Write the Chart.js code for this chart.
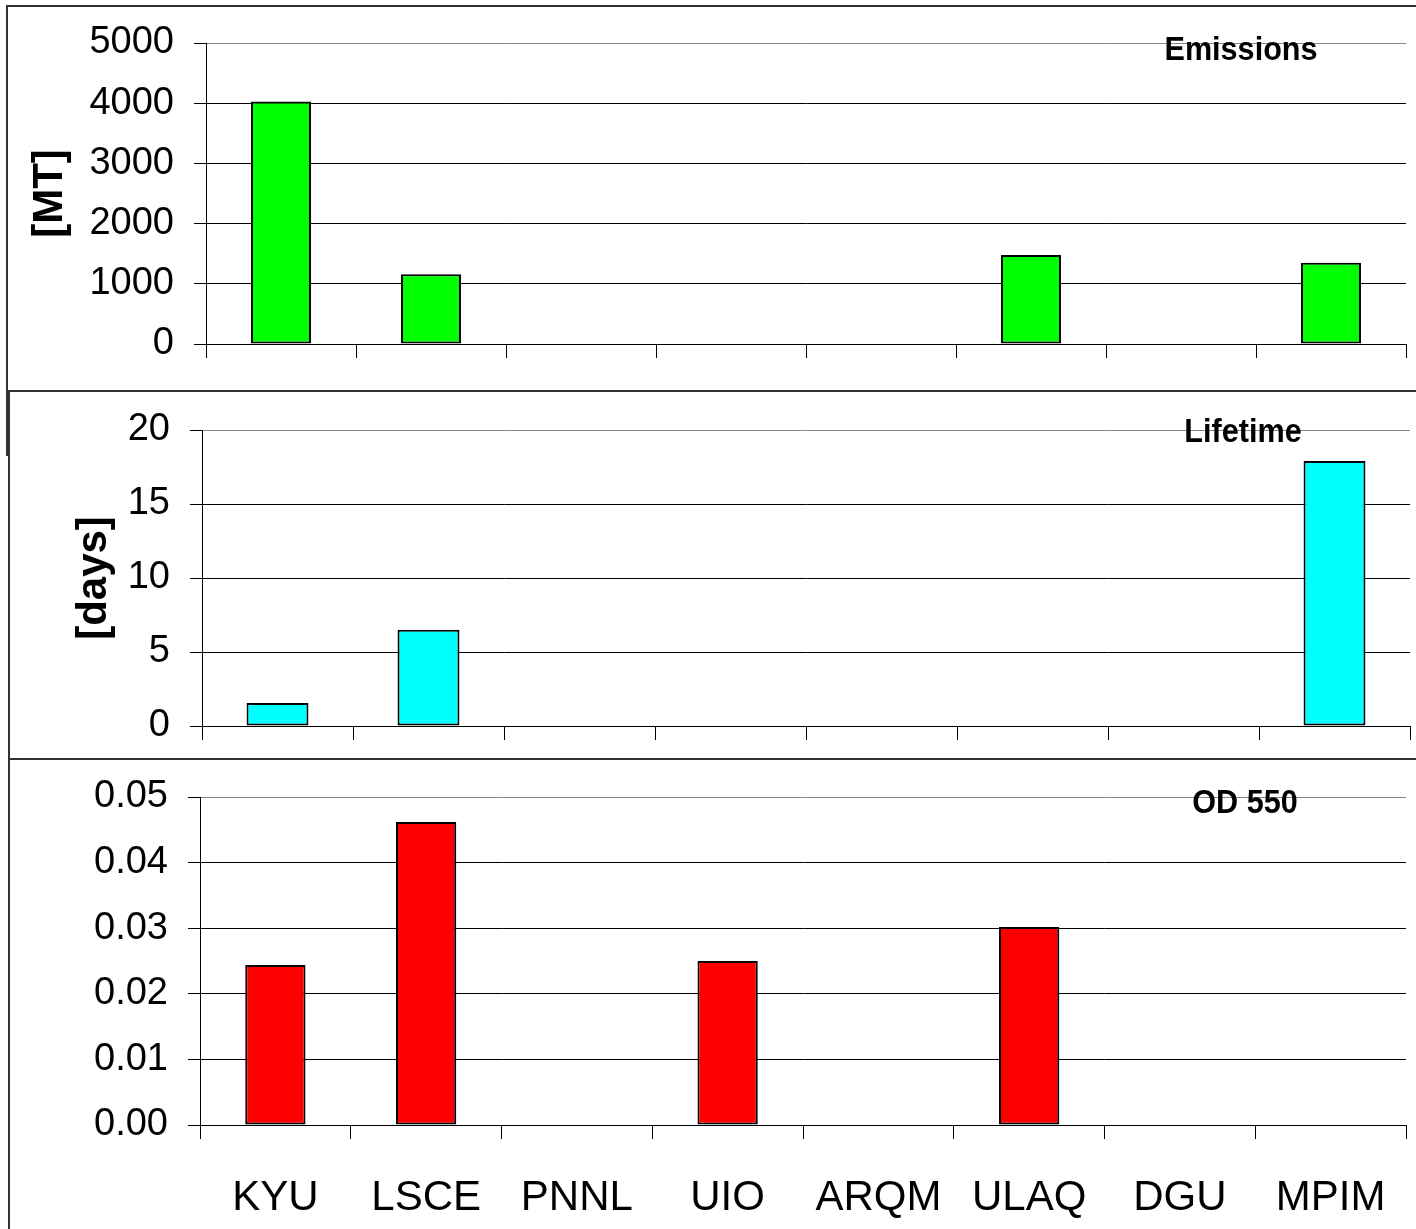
<!DOCTYPE html>
<html>
<head>
<meta charset="utf-8">
<script src="https://cdn.jsdelivr.net/npm/chart.js@4.4.0/dist/chart.umd.min.js"></script>
<style>
  body { margin: 0; background: #fff; width: 1416px; height: 1229px; overflow: hidden; position: relative; }
  .panel { position: absolute; background: #fff; border: 2px solid #333; box-sizing: border-box; }
  canvas { position: absolute; left: 0; }
</style>
</head>
<body>
<div class="panel" style="left:6px; top:5px; width:1430px; height:451px;"></div>
<canvas id="chartEmissions" width="1416" height="390" style="top:0"></canvas>
<div class="panel" style="left:8px; top:390px; width:1430px; height:370px;"></div>
<canvas id="chartLifetime" width="1416" height="380" style="top:390px"></canvas>
<div class="panel" style="left:8px; top:758px; width:1430px; height:500px;"></div>
<canvas id="chartOD" width="1416" height="470" style="top:759px"></canvas>

<script>
// Donnees
const categories = ["KYU", "LSCE", "PNNL", "UIO", "ARQM", "ULAQ", "DGU", "MPIM"];
const emissions = [4030, 1160, null, null, null, 1480, null, 1350];
const lifetime = [1.55, 6.5, null, null, null, null, null, 17.9];
const od550 = [0.0244, 0.0462, null, 0.025, null, 0.0302, null, null];

const FONT = "'Liberation Sans', Arial, sans-serif";

// titre dans le coin haut droit
const cornerTitle = {
  id: "cornerTitle",
  afterDraw(chart, args, opts) {
    const { ctx, chartArea } = chart;
    ctx.save();
    ctx.font = "bold 34px " + FONT;
    ctx.fillStyle = "#000";
    ctx.textAlign = "center";
    ctx.textBaseline = "alphabetic";
    ctx.translate(chartArea.right - opts.dx, chartArea.top + opts.dy);
    ctx.scale(0.9, 1);
    ctx.fillText(opts.text, 0, 0);
    ctx.restore();
  }
};

function makeChart(id, cfg) {
  const showX = !!cfg.showX;
  return new Chart(document.getElementById(id), {
    type: "bar",
    data: {
      labels: categories,
      datasets: [{
        data: cfg.data,
        backgroundColor: cfg.color,
        borderColor: "#000",
        borderWidth: 2,
        borderSkipped: false,
        categoryPercentage: 1,
        barPercentage: cfg.barPct || 0.4
      }]
    },
    options: {
      responsive: false,
      animation: false,
      layout: { padding: { left: 0, right: 1416 - cfg.right, top: cfg.top, bottom: 0 } },
      plugins: {
        legend: { display: false },
        tooltip: { enabled: false },
        cornerTitle: { text: cfg.title, dx: cfg.titleDx, dy: cfg.titleDy }
      },
      scales: {
        x: {
          afterFit: s => { s.height = cfg.xHeight; s.paddingLeft = 0; s.paddingRight = 0; },
          grid: {
            offset: true,
            drawOnChartArea: true,
            color: c => c.index === categories.length ? "#888" : "rgba(0,0,0,0)",
            tickColor: "#000",
            tickLength: 14
          },
          border: { color: "#000", width: 1 },
          ticks: {
            display: showX,
            color: "#000",
            padding: 34,
            maxRotation: 0,
            font: { family: FONT, size: 42 }
          }
        },
        y: {
          min: 0,
          max: cfg.max,
          afterFit: s => { s.width = cfg.left; s.paddingTop = 0; s.paddingBottom = 0; },
          grid: {
            color: c => c.tick && Math.abs(c.tick.value - cfg.max) < 1e-9 ? "#888" : "#000",
            tickColor: "#000",
            tickLength: 12
          },
          border: { color: "#000", width: 1 },
          ticks: {
            stepSize: cfg.step,
            color: "#000",
            padding: 20,
            font: { family: FONT, size: 38 },
            callback: cfg.fmt || (v => v)
          },
          title: {
            display: !!cfg.yTitle,
            text: cfg.yTitle || "",
            color: "#000",
            font: { family: FONT, size: 42, weight: "bold" },
            padding: { top: cfg.yTitlePad || 0, bottom: 0 }
          }
        }
      }
    },
    plugins: [cornerTitle]
  });
}

const chartEmissions = makeChart("chartEmissions", {
  data: emissions, color: "#00ff00", title: "Emissions",
  left: 206, right: 1406, top: 43, xHeight: 46,
  max: 5000, step: 1000, yTitle: "[MT]", yTitlePad: 25,
  titleDx: 165, titleDy: 17
});

const chartLifetime = makeChart("chartLifetime", {
  data: lifetime, color: "#00ffff", title: "Lifetime",
  left: 202, right: 1410, top: 40, xHeight: 44, barPct: 0.41,
  max: 20, step: 5, yTitle: "[days]", yTitlePad: 69,
  titleDx: 167, titleDy: 12
});

const chartOD = makeChart("chartOD", {
  data: od550, color: "#ff0000", title: "OD 550",
  left: 200, right: 1406, top: 38, xHeight: 104,
  max: 0.05, step: 0.01, fmt: v => Number(v).toFixed(2), showX: true,
  titleDx: 161, titleDy: 16
});
</script>
</body>
</html>
